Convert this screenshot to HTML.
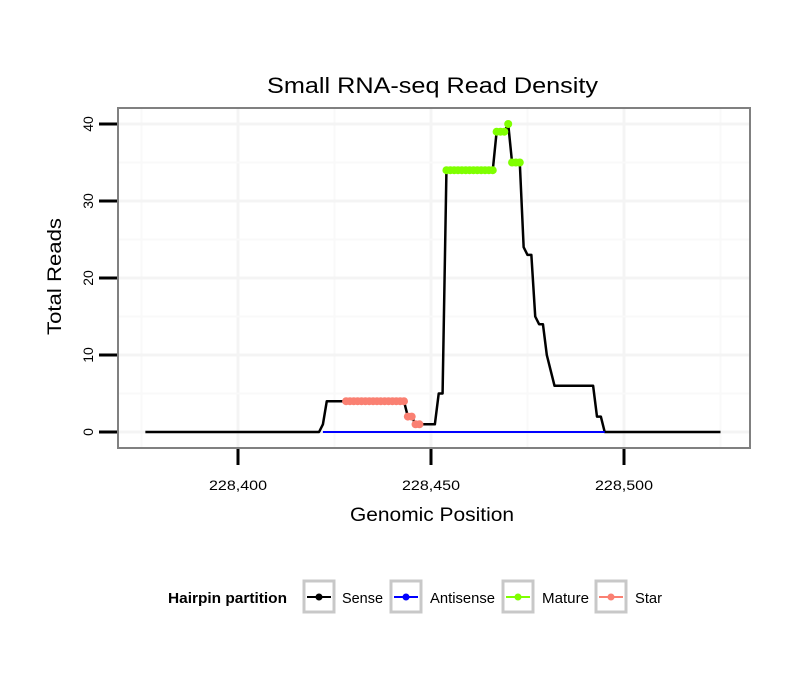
<!DOCTYPE html>
<html><head><meta charset="utf-8">
<style>
html,body{margin:0;padding:0;background:#fff;}
svg{display:block;font-family:"Liberation Sans",Arial,sans-serif;}
</style></head>
<body>
<svg id="chart" width="810" height="690" viewBox="0 0 810 690" xmlns="http://www.w3.org/2000/svg">
  <rect x="0" y="0" width="810" height="690" fill="#fff"/>
  <text x="267" y="93" font-size="22" textLength="331" lengthAdjust="spacingAndGlyphs" fill="#000">Small RNA-seq Read Density</text>
  <g id="grid"></g>
  <g id="series"></g>
  <rect x="118" y="108" width="632" height="340" fill="none" stroke="#808080" stroke-width="2"/>
  <g id="axes"></g>
  <text x="350" y="521" font-size="19" textLength="164" lengthAdjust="spacingAndGlyphs" fill="#000">Genomic Position</text>
  <text transform="translate(61,335) rotate(-90)" font-size="19" textLength="117" lengthAdjust="spacingAndGlyphs" fill="#000">Total Reads</text>
  <g>
    <text x="168" y="603" font-size="14.5" font-weight="bold" textLength="119" lengthAdjust="spacingAndGlyphs" fill="#000">Hairpin partition</text>
    <g>
      <rect x="304" y="581" width="30" height="31" fill="#fff" stroke="#c8c8c8" stroke-width="3"/>
      <line x1="307" y1="597" x2="331" y2="597" stroke="#000" stroke-width="2"/><circle cx="319" cy="597" r="3.5" fill="#000"/>
      <text x="342" y="603" font-size="14.5" textLength="41" lengthAdjust="spacingAndGlyphs" fill="#000">Sense</text>
    </g>
    <g>
      <rect x="391" y="581" width="30" height="31" fill="#fff" stroke="#c8c8c8" stroke-width="3"/>
      <line x1="394" y1="597" x2="418" y2="597" stroke="#0000ff" stroke-width="2"/><circle cx="406" cy="597" r="3.5" fill="#0000ff"/>
      <text x="430" y="603" font-size="14.5" textLength="65" lengthAdjust="spacingAndGlyphs" fill="#000">Antisense</text>
    </g>
    <g>
      <rect x="503" y="581" width="30" height="31" fill="#fff" stroke="#c8c8c8" stroke-width="3"/>
      <line x1="506" y1="597" x2="530" y2="597" stroke="#7fff00" stroke-width="2"/><circle cx="518" cy="597" r="3.5" fill="#7fff00"/>
      <text x="542" y="603" font-size="14.5" textLength="47" lengthAdjust="spacingAndGlyphs" fill="#000">Mature</text>
    </g>
    <g>
      <rect x="596" y="581" width="30" height="31" fill="#fff" stroke="#c8c8c8" stroke-width="3"/>
      <line x1="599" y1="597" x2="623" y2="597" stroke="#fa8072" stroke-width="2"/><circle cx="611" cy="597" r="3.5" fill="#fa8072"/>
      <text x="635" y="603" font-size="14.5" textLength="27" lengthAdjust="spacingAndGlyphs" fill="#000">Star</text>
    </g>
  </g>
</svg>
<script>
const xTicks = [228400, 228450, 228500];
const xTickLabels = ["228,400", "228,450", "228,500"];
const yTicks = [0, 10, 20, 30, 40];
const yTickLabels = ["0", "10", "20", "30", "40"];
const senseX = [228376, 228421, 228422, 228423, 228443, 228444, 228445, 228446, 228451, 228452, 228453, 228454, 228466, 228467, 228469, 228470, 228471, 228473, 228474, 228475, 228476, 228477, 228478, 228479, 228480, 228481, 228482, 228492, 228493, 228494, 228495, 228525];
const senseY = [0, 0, 1, 4, 4, 2, 2, 1, 1, 5, 5, 34, 34, 39, 39, 40, 35, 35, 24, 23, 23, 15, 14, 14, 10, 8, 6, 6, 2, 2, 0, 0];
const antisenseX = [228422, 228495];
const antisenseY = [0, 0];
const matureX = [228454,228455,228456,228457,228458,228459,228460,228461,228462,228463,228464,228465,228466,228467,228468,228469,228470,228471,228472,228473];
const matureY = [34,34,34,34,34,34,34,34,34,34,34,34,34,39,39,39,40,35,35,35];
const starX = [228428,228429,228430,228431,228432,228433,228434,228435,228436,228437,228438,228439,228440,228441,228442,228443,228444,228445,228446,228447];
const starY = [4,4,4,4,4,4,4,4,4,4,4,4,4,4,4,4,2,2,1,1];

const NS = "http://www.w3.org/2000/svg";
const xs = v => 238 + (v - 228400) * (431 - 238) / 50;
const ys = v => 432 - v * (432 - 124) / 40;
function mk(tag, attrs, parent) {
  const e = document.createElementNS(NS, tag);
  for (const k in attrs) e.setAttribute(k, attrs[k]);
  parent.appendChild(e);
  return e;
}
const grid = document.getElementById('grid');
mk('rect', {x:118, y:108, width:632, height:340, fill:'#fff'}, grid);
for (let v = 228375; v <= 228525; v += 25) {
  const l = mk('line', {x1:xs(v), x2:xs(v), y1:109, y2:447, stroke: v % 50 === 0 ? '#f4f4f4' : '#f9f9f9', 'stroke-width': v % 50 === 0 ? 3 : 2}, grid);
  
  
}
for (let v = 0; v <= 40; v += 5) {
  const l = mk('line', {x1:119, x2:749, y1:ys(v), y2:ys(v), stroke: v % 10 === 0 ? '#f4f4f4' : '#f9f9f9', 'stroke-width': v % 10 === 0 ? 3 : 2}, grid);
  
  
}
const axes = document.getElementById('axes');
xTicks.forEach((v, i) => {
  const t = mk('line', {x1:xs(v), x2:xs(v), y1:449, y2:465, stroke:'#000', 'stroke-width':3}, axes);
  
  
  const tx = mk('text', {x:xs(v)-29, y:490, 'font-size':14, textLength:58, lengthAdjust:'spacingAndGlyphs', fill:'#000'}, axes);
  tx.textContent = xTickLabels[i];
  
  
});
yTicks.forEach((v, i) => {
  const t = mk('line', {x1:99, x2:117, y1:ys(v), y2:ys(v), stroke:'#000', 'stroke-width':3}, axes);
  
  
  const tx = mk('text', {transform:`translate(${93},${ys(v)}) rotate(-90)`, 'font-size':14, 'text-anchor':'middle', fill:'#000'}, axes);
  tx.textContent = yTickLabels[i];
  
  
});
const series = document.getElementById('series');
const pts = (X, Y) => X.map((x, i) => xs(x) + ',' + ys(Y[i])).join(' ');
const sl = mk('polyline', {points: pts(senseX, senseY), fill:'none', stroke:'#000', 'stroke-width':2.5, 'stroke-linejoin':'round'}, series);


const al = mk('polyline', {points: pts(antisenseX, antisenseY), fill:'none', stroke:'#0000ff', 'stroke-width':2}, series);


function dots(X, Y, color, name) {
  X.forEach((x, i) => {
    const c = mk('circle', {cx:xs(x), cy:ys(Y[i]), r:4, fill:color}, series);
    
    
  });
}
dots(starX, starY, '#fa8072', 'star-point');
dots(matureX, matureY, '#7fff00', 'mature-point');
</script>
</body></html>
